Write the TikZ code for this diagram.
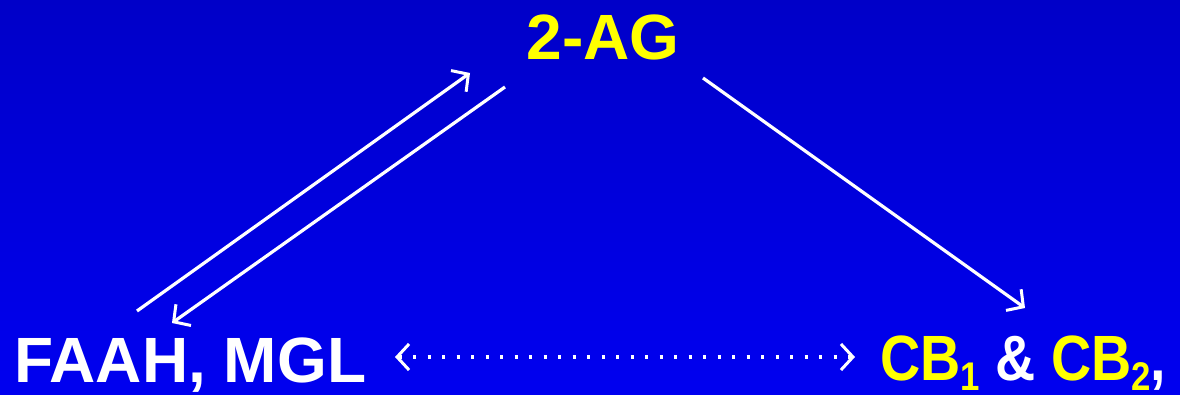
\documentclass[tikz,border=0pt]{standalone}
\usepackage{fontspec}
\setmainfont{Liberation Sans}
\usetikzlibrary{arrows.meta}
\definecolor{bgtop}{RGB}{0, 0, 200}
\definecolor{bgbottom}{RGB}{0, 0, 240}
\definecolor{lipid}{RGB}{255, 255, 0}

\begin{document}
\begin{tikzpicture}[x=1pt, y=-1pt,
    label/.style={inner sep=0pt, text=white, font=\bfseries\fontsize{64}{70}\selectfont},
    arr/.style={white, line width=3.2pt, -{Straight Barb[length=12pt, width=26pt, line width=3pt]}}]
        \shade[top color=bgtop, bottom color=bgbottom] (0,0) rectangle (1180,395);
        \useasboundingbox (0,0) rectangle (1180,395);
        \clip (0,0) rectangle (1180,395);

        \node[label, text=lipid, anchor=base] (ag) at (603,60) {2-AG};
        \node[label, anchor=base west] (enz) at (14,382) {FAAH, MGL};
        \node[label, anchor=base west] (cb) at (880,380) {\scalebox{0.87}[1]{\textcolor{lipid}{CB\raisebox{-10pt}{\fontsize{40}{44}\selectfont 1}} \& \textcolor{lipid}{CB\raisebox{-10pt}{\fontsize{40}{44}\selectfont 2}},}};

        \draw[arr] ([shift={(123,-71)}]enz.base west) -- ([shift={(-133,13)}]ag.base);
        \draw[arr] ([shift={(-98,27)}]ag.base) -- ([shift={(158,-59)}]enz.base west);
        \draw[arr] ([shift={(100,18)}]ag.base) -- ([shift={(145,-72)}]cb.base west);
        \draw[arr, {Straight Barb[length=12pt, width=26pt, line width=3pt]}-{Straight Barb[length=12pt, width=26pt, line width=3pt]}, dash pattern=on 3pt off 11.5pt] ([shift={(381,-25)}]enz.base west) -- ([shift={(-25,-23)}]cb.base west);

    \end{tikzpicture}
\end{document}
